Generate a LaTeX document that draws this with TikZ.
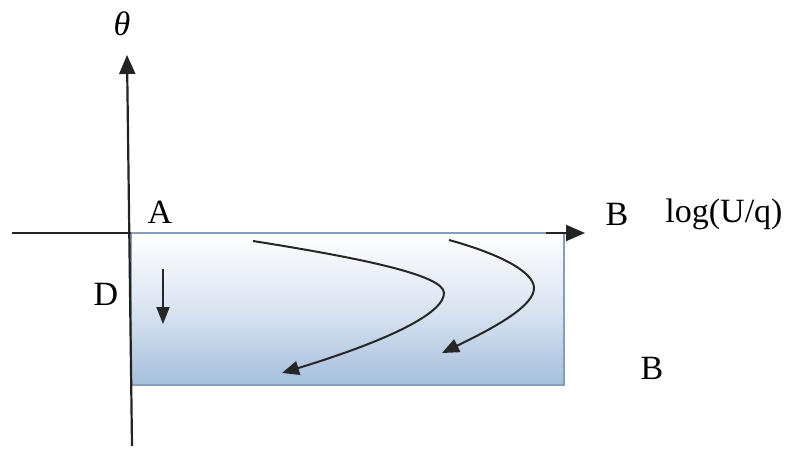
\documentclass[tikz,border=0pt]{standalone}
\usepackage{fontspec}
\setmainfont{Liberation Serif}
\usetikzlibrary{arrows.meta}
\definecolor{boxblue}{RGB}{165,190,220}
\definecolor{boxmid}{RGB}{218,228,241}
\definecolor{boxedge}{RGB}{135,158,186}
\definecolor{axisgray}{RGB}{35,35,35}
\tikzset{
  axisline/.style={draw=axisgray, line width=2.2pt},
  flowarrow/.style={draw=black!85, line width=2pt, -{Triangle[length=17pt,width=14pt]}},
  lbl/.style={inner sep=0pt, font=\fontsize{34}{34}\selectfont},
}
\begin{document}
\begin{tikzpicture}[x=1pt,y=-1pt]
\useasboundingbox (0,0) rectangle (790,448);
% box
\shade[top color=white, bottom color=boxblue, middle color=boxmid, draw=boxedge, line width=1.6pt]
  (131,233) rectangle (564,385);
\node[inner sep=0pt, minimum width=433pt, minimum height=152pt] (box) at (347.5,309) {};
% axes
\coordinate (xl) at (12,233);
\coordinate (xr) at (585,233);
\coordinate (yb) at (132,446);
\coordinate (yt) at (127,55);
\draw[axisline] (xl) -- (131,233);
\draw[axisline, -{Triangle[length=19pt,width=16pt]}] (546,233) -- (xr);
\draw[axisline, -{Triangle[length=19pt,width=16pt]}] (yb) -- (yt);
% labels
\node[lbl] (theta) at (122,24) {\itshape θ};
\node[lbl] (A) at (160,212) {A};
\node[lbl] (D) at (106,294) {D};
\node[lbl] (B1) at (617,214) {B};
\node[lbl] (logu) at (724,214) {log(U/q)};
\node[lbl] (B2) at (652,368) {B};
% small arrow
\coordinate (d1) at (163,269);
\coordinate (d2) at (163,324);
\draw[flowarrow, -{Triangle[length=17pt,width=13pt]}] (d1) -- (d2);
% curves
\coordinate (c1s) at (253,241);
\coordinate (c1a) at (444,293);
\coordinate (c1e) at (282,373);
\draw[flowarrow] (c1s) .. controls (360,258) and (444,275) .. (c1a)
  .. controls (444,313) and (390,340) .. (c1e);
\coordinate (c2s) at (449,240);
\coordinate (c2a) at (534,288);
\coordinate (c2e) at (442,353);
\draw[flowarrow] (c2s) .. controls (500,254) and (534,272) .. (c2a)
  .. controls (534,305) and (500,325) .. (c2e);
\end{tikzpicture}
\end{document}
